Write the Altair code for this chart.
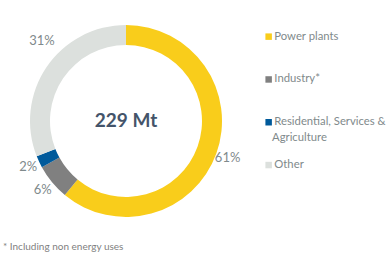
import altair as alt
import pandas as pd

categories = ["Power plants", "Industry*", "Residential, Services & Agriculture", "Other"]
values = [61, 6, 2, 31]
labels = ["61%", "6%", "2%", "31%"]
colors = ["#F9CD1B", "#808080", "#005A9B", "#DCE0DD"]
center_text = "229  Mt"
footnote = "* Including non energy uses"
legend_wrap = "Agriculture"

df = pd.DataFrame({"category": categories, "value": values, "label": labels,
                   "order": list(range(len(categories)))})

cx, cy = 126, 121
grey = "#7F8A8C"

theta_scale = alt.Scale(domain=[0, 100], range=[0, 6.283185307])

base = alt.Chart(df).transform_window(
    cum="sum(value)", sort=[alt.SortField("order")], frame=[None, 0]
).transform_calculate(
    start="datum.cum - datum.value",
    mid="datum.cum - datum.value / 2",
)

color = alt.Color(
    "category:N",
    scale=alt.Scale(domain=categories, range=colors),
    sort=categories,
    legend=alt.Legend(
        title=None, orient="none", legendX=263, legendY=31,
        symbolType="square", symbolSize=42, symbolStrokeWidth=0,
        labelFont="Lato", labelFontSize=11.3, labelColor=grey,
        rowPadding=30.8, labelLimit=200, labelOffset=0,
        labelExpr="datum.label == 'Residential, Services & Agriculture' ? 'Residential, Services &' : datum.label",
    ),
)

arcs = base.mark_arc(outerRadius=96, innerRadius=76, stroke=None).encode(
    theta=alt.Theta("start:Q", scale=theta_scale),
    theta2="cum:Q",
    color=color,
    x=alt.value(cx), y=alt.value(cy),
)

pct = base.transform_filter(alt.datum.category != "Other").mark_text(
    radius=108, font="Lato", fontSize=13, color=grey
).encode(
    theta=alt.Theta("mid:Q", scale=theta_scale),
    text="label:N",
    x=alt.value(cx), y=alt.value(cy),
)

pct_other = base.transform_filter(alt.datum.category == "Other").mark_text(
    radius=110, font="Lato", fontSize=13, color=grey, dx=7, dy=-18
).encode(
    theta=alt.Theta("mid:Q", scale=theta_scale),
    text="label:N",
    x=alt.value(cx), y=alt.value(cy),
)

center = alt.Chart(pd.DataFrame({"t": [center_text]})).mark_text(
    font="Lato", fontSize=19, fontWeight="bold", color="#44546A"
).encode(text="t:N", x=alt.value(cx), y=alt.value(cy))

wrap = alt.Chart(pd.DataFrame({"t": [legend_wrap]})).mark_text(
    font="Lato", fontSize=11.3, color=grey, align="left"
).encode(text="t:N", x=alt.value(272), y=alt.value(138))

foot = alt.Chart(pd.DataFrame({"t": [footnote]})).mark_text(
    font="Lato", fontSize=10, color="#7F7F7F", align="left"
).encode(text="t:N", x=alt.value(3), y=alt.value(247))

chart = alt.layer(arcs, pct, pct_other, center, wrap, foot).properties(
    width=390, height=258, padding=0, autosize=alt.AutoSizeParams(type="none")
).configure_view(stroke=None)

chart.save("out.html", embed_options={"renderer": "svg", "actions": False})
